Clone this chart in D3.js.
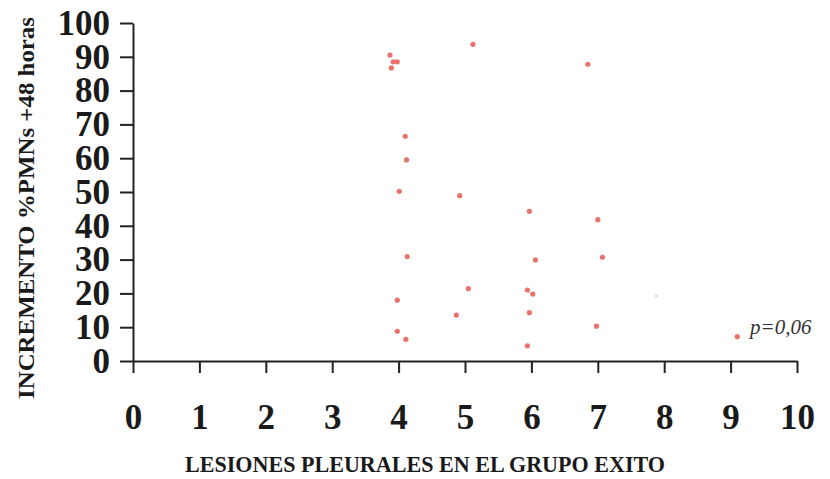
<!DOCTYPE html>
<html>
<head>
<meta charset="utf-8">
<script src="https://cdn.jsdelivr.net/npm/d3@7"></script>
<style>
	body { margin: 0; background: #fff; }
	.axis path, .axis line { stroke: #222; stroke-width: 2; }
	.axis text { font-family: "Liberation Serif", "Times New Roman", serif; font-weight: bold; font-size: 35px; fill: #1a1a1a; }
</style>
</head>
<body>
<script>

// lesiones pleurales (x) vs incremento %PMNs +48 horas (y)
var lesiones = [3.87, 3.92, 3.98, 3.89, 5.12, 6.85, 4.10, 4.12, 4.01, 4.92, 5.97, 7.00, 4.13,
	6.06, 7.07, 5.05, 3.98, 5.94, 6.02, 4.87, 5.97, 3.98, 4.11, 6.98, 5.94, 9.10];
var incremento = [90.5, 88.5, 88.5, 86.7, 93.7, 87.8, 66.5, 59.5, 50.2, 48.9, 44.3, 41.8, 30.9,
	29.9, 30.7, 21.4, 18.0, 21.0, 19.8, 13.6, 14.3, 8.8, 6.4, 10.3, 4.5, 7.2];

// one faded dot, barely visible in the scan
var fadedLesiones = [7.88];
var fadedIncremento = [19.2];

var xTicks = [0, 1, 2, 3, 4, 5, 6, 7, 8, 9, 10];
var yTicks = [0, 10, 20, 30, 40, 50, 60, 70, 80, 90, 100];

var xTitle = "LESIONES PLEURALES EN EL GRUPO EXITO";
var yTitle = "INCREMENTO %PMNs +48 horas";
var pLabel = "p=0,06";

var width = 830,
	height = 479;

var points = lesiones.map(function (d, i) { return { x: d, y: incremento[i] }; });
var faded = fadedLesiones.map(function (d, i) { return { x: d, y: fadedIncremento[i] }; });

var xScale = d3.scaleLinear()
	.domain([0, 10])
	.range([133, 797]);

var yScale = d3.scaleLinear()
	.domain([0, 100])
	.range([361, 23]);

var svg = d3.select("body").append("svg")
	.attr("width", width)
	.attr("height", height);

// x axis
var xAxis = d3.axisBottom(xScale)
	.tickValues(xTicks)
	.tickFormat(d3.format("d"))
	.tickSize(12)
	.tickSizeOuter(0)
	.tickPadding(31);

svg.append("g")
	.attr("class", "x axis")
	.attr("transform", "translate(0," + yScale(0) + ")")
	.call(xAxis);

// y axis
var yAxis = d3.axisLeft(yScale)
	.tickValues(yTicks)
	.tickFormat(d3.format("d"))
	.tickSize(13)
	.tickSizeOuter(0)
	.tickPadding(10);

svg.append("g")
	.attr("class", "y axis")
	.attr("transform", "translate(" + xScale(0) + ",0)")
	.call(yAxis);

svg.selectAll(".axis .domain").attr("fill", "none");

// dots
svg.append("g").selectAll(".dot")
	.data(points)
	.enter().append("circle")
	.attr("class", "dot")
	.attr("cx", function (d) { return xScale(d.x); })
	.attr("cy", function (d) { return yScale(d.y); })
	.attr("r", 2.6)
	.style("fill", "#e8736c");

svg.append("g").selectAll(".faded")
	.data(faded)
	.enter().append("circle")
	.attr("class", "faded")
	.attr("cx", function (d) { return xScale(d.x); })
	.attr("cy", function (d) { return yScale(d.y); })
	.attr("r", 1.5)
	.style("fill", "#e8736c")
	.style("opacity", 0.35);

// titles
svg.append("text")
	.attr("x", 425)
	.attr("y", 472)
	.attr("text-anchor", "middle")
	.attr("textLength", 480)
	.attr("lengthAdjust", "spacingAndGlyphs")
	.style("font-family", "'Liberation Serif', 'Times New Roman', serif")
	.style("font-weight", "bold")
	.style("font-size", "23px")
	.style("fill", "#1a1a1a")
	.text(xTitle);

svg.append("text")
	.attr("transform", "translate(34,208) rotate(-90)")
	.attr("text-anchor", "middle")
	.attr("textLength", 382)
	.attr("lengthAdjust", "spacingAndGlyphs")
	.style("font-family", "'Liberation Serif', 'Times New Roman', serif")
	.style("font-weight", "bold")
	.style("font-size", "23px")
	.style("fill", "#1a1a1a")
	.text(yTitle);

svg.append("text")
	.attr("x", 750)
	.attr("y", 334)
	.style("font-family", "'Liberation Serif', 'Times New Roman', serif")
	.style("font-style", "italic")
	.style("font-size", "21px")
	.style("fill", "#333")
	.text(pLabel);

</script>
</body>
</html>
